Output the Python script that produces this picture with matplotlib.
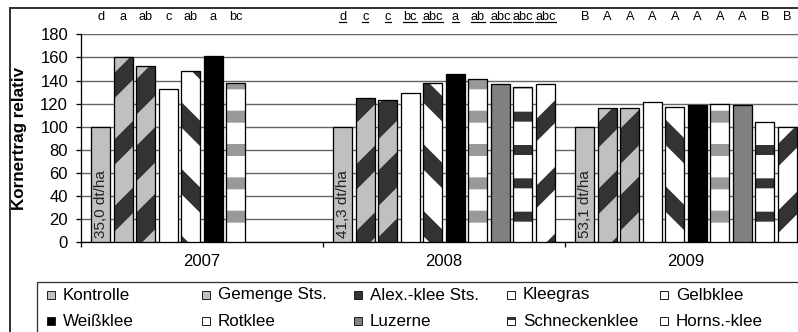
import numpy as np
import matplotlib.pyplot as plt
from matplotlib.patches import Rectangle
from matplotlib.lines import Line2D

years = ['2007', '2008', '2009']
series = ['Kontrolle', 'Gemenge Sts.', 'Alex.-klee Sts.', 'Kleegras', 'Gelbklee',
          'Weißklee', 'Rotklee', 'Luzerne', 'Schneckenklee', 'Horns.-klee']
y2007 = [100, 160, 153, 133, 148, 161, 138, np.nan, np.nan, np.nan]
y2008 = [100, 125, 123, 129, 138, 146, 141, 137, 134, 137]
y2009 = [100, 116, 116, 121, 117, 119, 120, 119, 104, 100]
base_yield = ['35,0 dt/ha', '41,3 dt/ha', '53,1 dt/ha']
letters2007 = ['d', 'a', 'ab', 'c', 'ab', 'a', 'bc', '', '', '']
letters2008 = ['d', 'c', 'c', 'bc', 'abc', 'a', 'ab', 'abc', 'abc', 'abc']
letters2009 = ['B', 'A', 'A', 'A', 'A', 'A', 'A', 'A', 'B', 'B']

# fill colour, hatch, hatch colour, hatch width (px), legend colour
styles = [
    ('#c0c0c0', None, None, 0, '#c0c0c0'),
    ('#c0c0c0', '/', '#333333', 18, '#c0c0c0'),
    ('#333333', '/', '#c0c0c0', 22, '#333333'),
    ('#ffffff', None, None, 0, '#ffffff'),
    ('#ffffff', '\\', '#333333', 18, '#ffffff'),
    ('#000000', None, None, 0, '#000000'),
    ('#ffffff', '-', '#999999', 12, '#ffffff'),
    ('#808080', None, None, 0, '#808080'),
    ('#ffffff', '-', '#333333', 10, '#ffffff'),
    ('#ffffff', '/', '#333333', 16, '#ffffff'),
]

DPI = 200
W, H = 798, 332
def pt(px):  # pixel -> point at this dpi
    return px * 72 / DPI
def fs(p100):  # font size given as pt at 100 dpi
    return p100 * 100 / DPI
def fx(x):
    return x / W
def fy(y):
    return 1 - y / H

plt.rcParams['font.family'] = ['Liberation Sans', 'DejaVu Sans']

fig = plt.figure(figsize=(W / DPI, H / DPI), dpi=DPI)
ax_l, ax_r, ax_t, ax_b = 81, 807, 34.3, 242.3
ax = fig.add_axes([fx(ax_l), fy(ax_b), (ax_r - ax_l) / W, (ax_b - ax_t) / H])

data = np.array([y2007, y2008, y2009])
x = np.arange(len(years))
slot = 0.093
bw = 0.0785
for j, name in enumerate(series):
    fc, hatch, hc, hw, _ = styles[j]
    xs = x + (j - 4.5) * slot
    vals = data[:, j]
    with plt.rc_context({'hatch.linewidth': pt(max(hw, 1))}):
        ax.bar(xs, vals, bw, color=fc, hatch=hatch, edgecolor=hc if hc else fc,
               linewidth=0, zorder=3)
    ax.bar(xs, vals, bw, fill=False, edgecolor='black', linewidth=pt(1.3), zorder=4)

for i, txt in enumerate(base_yield):
    ax.text(x[i] - 4.5 * slot, 4, txt, rotation=90, ha='center', va='bottom',
            fontsize=fs(11), color='#222222', zorder=5)

under = []
for i, labs in enumerate([letters2007, letters2008, letters2009]):
    for j, lab in enumerate(labs):
        if not lab:
            continue
        t = ax.text(x[i] + (j - 4.5) * slot, 195, lab, ha='center', va='center',
                    fontsize=fs(9.2), clip_on=False)
        if i == 1:
            under.append(t)

ax.set_xlim(-0.5, 2.5)
ax.set_ylim(0, 180)
ax.set_yticks(np.arange(0, 181, 20))
ax.yaxis.grid(True, color='#666666', linewidth=pt(1.4), zorder=0)
ax.set_axisbelow(True)
ax.set_xticks([-0.5, 0.5, 1.5])
ax.set_xticklabels([])
ax.set_xticks(x, minor=True)
ax.set_xticklabels(years, minor=True)
ax.tick_params(axis='x', which='major', length=pt(5), width=pt(1.3), direction='out')
ax.tick_params(axis='x', which='minor', length=0, pad=pt(12), labelsize=fs(12))
ax.tick_params(axis='y', length=pt(5), width=pt(1.3), pad=pt(8), labelsize=fs(12))
for s in ['top', 'right']:
    ax.spines[s].set_visible(False)
for s in ['left', 'bottom']:
    ax.spines[s].set_linewidth(pt(1.3))
ax.set_ylabel('Kornertrag relativ', fontsize=fs(12.3), fontweight='bold')
ax.yaxis.set_label_coords((27 - ax_l) / (ax_r - ax_l), 0.5)

# chart border
fig.add_artist(Rectangle((fx(10), fy(400)), 2, fy(8) - fy(400), fill=False,
                         edgecolor='#333333', linewidth=pt(2), transform=fig.transFigure))
# legend box
fig.add_artist(Rectangle((fx(37), fy(400)), 2, fy(282) - fy(400), fill=False,
                         edgecolor='#333333', linewidth=pt(1.3), transform=fig.transFigure))
col_x = [47, 202, 354, 507, 660]
row_y = [295, 321]
for k, name in enumerate(series):
    r, c = divmod(k, 5)
    sx, sy = col_x[c], row_y[r]
    lc = styles[k][4]
    fig.add_artist(Rectangle((fx(sx), fy(sy + 4)), 8 / W, 8 / H, facecolor=lc,
                             edgecolor='#222222', linewidth=pt(1), transform=fig.transFigure))
    if name == 'Schneckenklee':
        fig.add_artist(Rectangle((fx(sx), fy(sy - 1)), 8 / W, 3 / H, facecolor='#333333',
                                 edgecolor='none', transform=fig.transFigure))
    fig.text(fx(sx + 16), fy(sy), name, ha='left', va='center', fontsize=fs(12.3))

# underline the 2008 letters
fig.canvas.draw()
r = fig.canvas.get_renderer()
inv = fig.transFigure.inverted()
for t in under:
    bb = t.get_window_extent(r)
    (x0, y0), (x1, _) = inv.transform([(bb.x0, bb.y0 + 1), (bb.x1, bb.y0 + 1)])
    fig.add_artist(Line2D([x0, x1], [y0, y0], color='black', linewidth=pt(1.2)))

fig.savefig('out.png', dpi=DPI)
